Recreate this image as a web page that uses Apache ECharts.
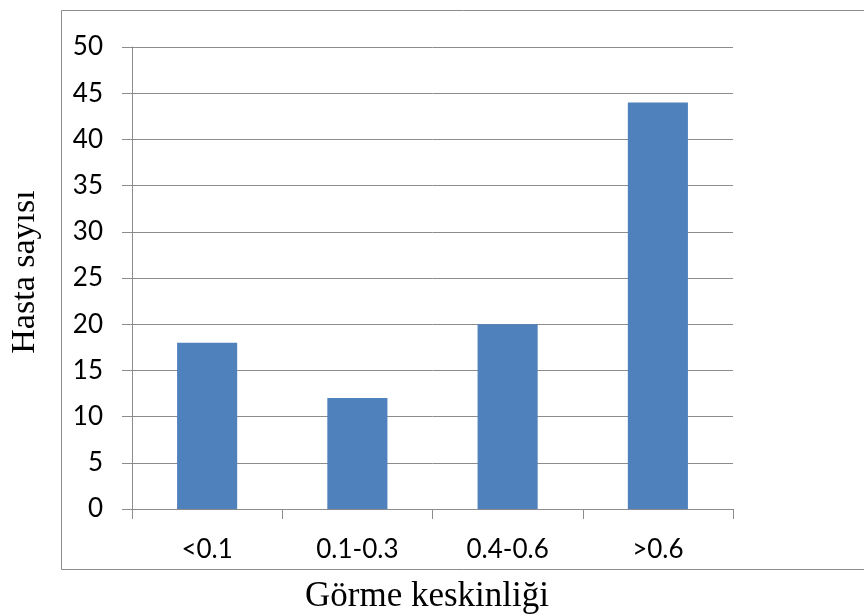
<!DOCTYPE html>
<html>
<head>
<meta charset="utf-8">
<script src="https://cdn.jsdelivr.net/npm/echarts@6/dist/echarts.min.js"></script>
<style>
  html, body { margin: 0; padding: 0; background: #fff; }
  #chart { width: 864px; height: 615px; }
</style>
</head>
<body>
<div id="chart"></div>
<script>
// verileri
var categories = ['<0.1', '0.1-0.3', '0.4-0.6', '>0.6'];
var patients = [18, 12, 20, 44];
var yTicks = [0, 5, 10, 15, 20, 25, 30, 35, 40, 45, 50];

var myChart = echarts.init(document.getElementById('chart'));
myChart.setOption({
  animation: false,
  backgroundColor: '#fff',
  graphic: [{
    type: 'rect',
    shape: { x: 61.5, y: 10.5, width: 820, height: 559 },
    style: { fill: 'none', stroke: '#8c8c8c', lineWidth: 1 }
  }],
  grid: { left: 132, right: 131, top: 47, bottom: 106, outerBoundsMode: 'none' },
  xAxis: {
    type: 'category',
    data: categories,
    name: 'Görme keskinliği',
    nameLocation: 'middle',
    nameGap: 70,
    nameTextStyle: { fontFamily: 'Liberation Serif', fontSize: 35, color: '#000', padding: [0, 11, 0, 0] },
    axisLine: { lineStyle: { color: '#8c8c8c' } },
    axisTick: { show: true, length: 10, lineStyle: { color: '#8c8c8c' } },
    axisLabel: { margin: 28, fontFamily: 'Lato', fontSize: 26, color: '#000' }
  },
  yAxis: {
    type: 'value',
    min: yTicks[0],
    max: yTicks[yTicks.length - 1],
    interval: 5,
    name: 'Hasta sayısı',
    nameLocation: 'middle',
    nameGap: 90,
    nameTextStyle: { fontFamily: 'Liberation Serif', fontSize: 34, color: '#000', padding: [0, 0, 0, 12] },
    axisLine: { show: true, lineStyle: { color: '#8c8c8c' } },
    axisTick: { show: true, length: 10, lineStyle: { color: '#8c8c8c' } },
    splitLine: { show: true, lineStyle: { color: '#8c8c8c' } },
    axisLabel: { margin: 29, fontFamily: 'Lato', fontSize: 26, color: '#000' }
  },
  series: [{
    type: 'bar',
    data: patients,
    barWidth: '40%',
    itemStyle: { color: '#4F81BD' }
  }]
});
</script>
</body>
</html>
